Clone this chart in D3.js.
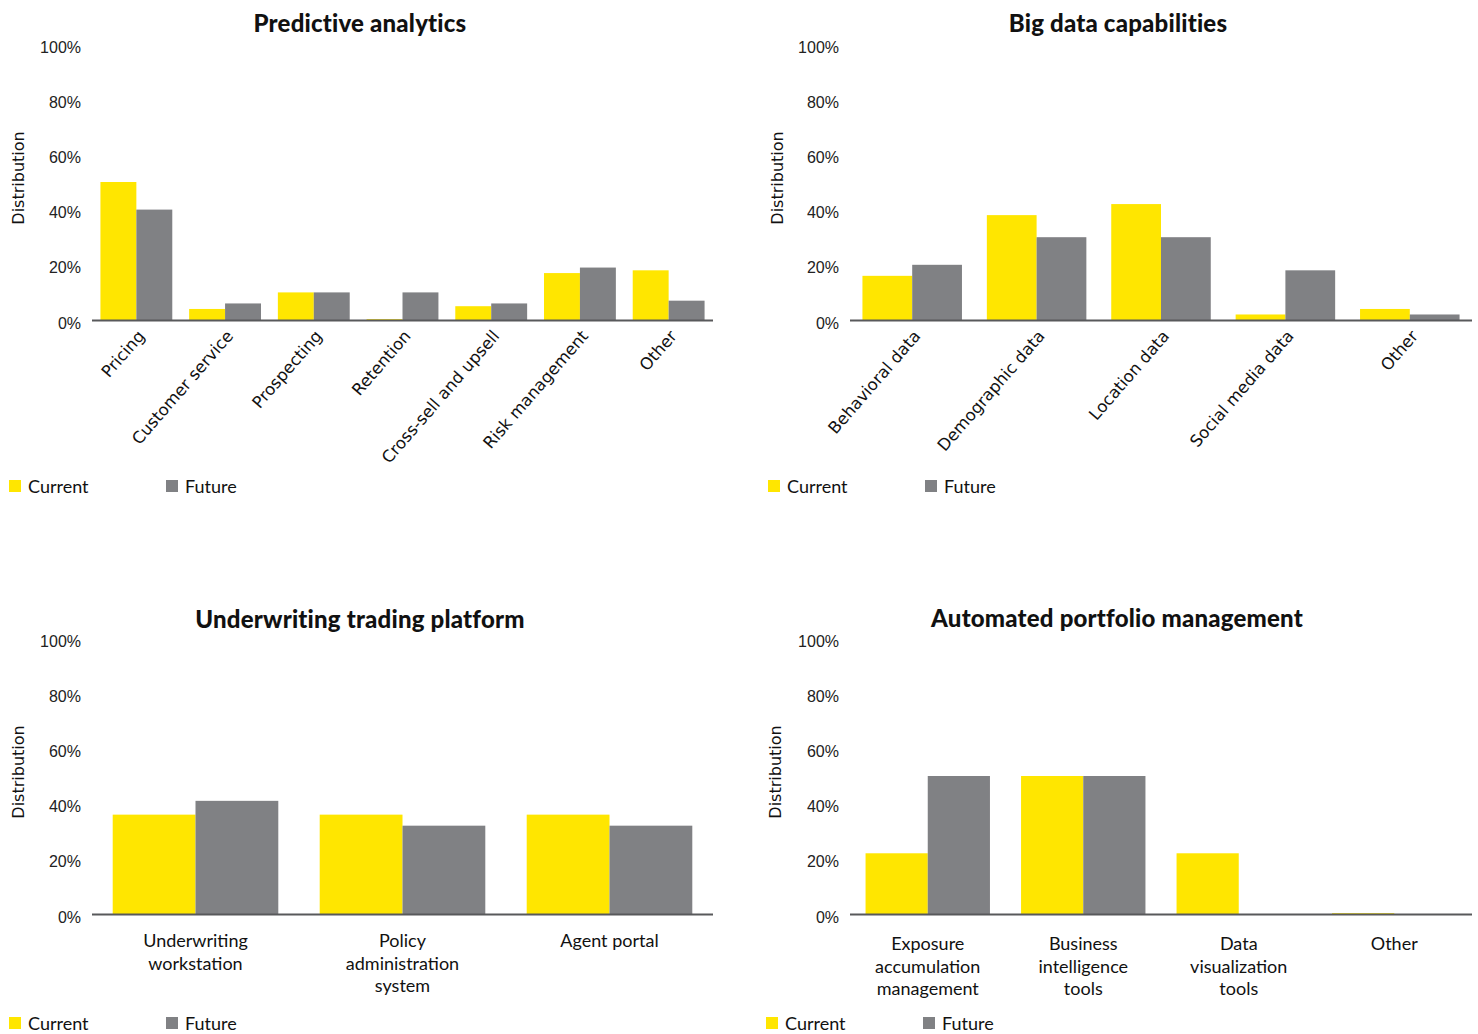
<!DOCTYPE html>
<html><head><meta charset="utf-8">
<script src="https://cdn.jsdelivr.net/npm/d3@7"></script>
<style>
html,body{margin:0;padding:0;background:#fff;}
svg{display:block;}
</style></head>
<body>
<svg id="chart" width="1478" height="1034"></svg>
<script>
// ---- Data ----
const seriesNames = ["Current", "Future"];
const yTicks = [0, 20, 40, 60, 80, 100];

const predictiveCategories = ["Pricing", "Customer service", "Prospecting", "Retention", "Cross-sell and upsell", "Risk management", "Other"];
const predictiveCurrent = [50, 4, 10, 0.3, 5, 17, 18];
const predictiveFuture  = [40, 6, 10, 10, 6, 19, 7];

const bigDataCategories = ["Behavioral data", "Demographic data", "Location data", "Social media data", "Other"];
const bigDataCurrent = [16, 38, 42, 2, 4];
const bigDataFuture  = [20, 30, 30, 18, 2];

const underwritingCategories = ["Underwriting\nworkstation", "Policy\nadministration\nsystem", "Agent portal"];
const underwritingCurrent = [36, 36, 36];
const underwritingFuture  = [41, 32, 32];

const portfolioCategories = ["Exposure\naccumulation\nmanagement", "Business\nintelligence\ntools", "Data\nvisualization\ntools", "Other"];
const portfolioCurrent = [22, 50, 22, 0.3];
const portfolioFuture  = [50, 50, 0, 0];

// ---- Style ----
const colors = {Current: "#FFE600", Future: "#808184"};
const sansFont = "Lato, 'Open Sans', sans-serif";
const dejaFont = "'DejaVu Sans', sans-serif";

const svg = d3.select("#chart");

function drawPanel(o) {
  const g = svg.append("g");
  const x = d3.scaleBand().domain(o.categories).range([o.x0, o.x1]).paddingInner(o.pad).paddingOuter(o.pad / 2);
  const xs = d3.scaleBand().domain(seriesNames).range([0, x.bandwidth()]);
  const y = d3.scaleLinear().domain([0, 100]).range([o.yBase, o.yTop]);

  // title
  g.append("text").attr("x", o.titleX).attr("y", o.titleY).attr("text-anchor", "middle")
    .attr("dominant-baseline", "central")
    .style("font-family", sansFont).style("font-weight", "900").style("font-size", "24px")
    .style("letter-spacing", "0.2px").style("fill", "#111")
    .text(o.title);

  // y axis
  const ya = g.append("g").attr("transform", `translate(${o.x0 - 8},3)`)
    .call(d3.axisLeft(y).tickValues(yTicks).tickSize(0).tickPadding(3).tickFormat(d => d + "%"));
  ya.select(".domain").remove();
  ya.selectAll("text").style("font-family", "'Liberation Sans', sans-serif").style("font-size", "16px").style("fill", "#222");

  // y label
  g.append("text").attr("transform", `translate(${o.ylabX},${(o.yBase + o.yTop) / 2 - 4}) rotate(-90)`)
    .attr("text-anchor", "middle").attr("dominant-baseline", "central")
    .style("font-family", dejaFont).style("font-size", "16px").style("fill", "#111")
    .text("Distribution");

  // bars
  const rows = o.categories.map((c, i) => ({c, vals: [o.current[i], o.future[i]]}));
  const grp = g.selectAll("g.cat").data(rows).join("g").attr("class", "cat")
    .attr("transform", d => `translate(${x(d.c)},0)`);
  grp.selectAll("rect").data(d => d.vals.map((v, j) => ({s: seriesNames[j], v}))).join("rect")
    .attr("x", d => xs(d.s)).attr("width", xs.bandwidth())
    .attr("y", d => y(d.v)).attr("height", d => y(0) - y(d.v))
    .attr("fill", d => colors[d.s]);

  // baseline
  g.append("line").attr("x1", o.x0).attr("x2", o.x1).attr("y1", y(0) + 0.5).attr("y2", y(0) + 0.5)
    .attr("stroke", "#58595b").attr("stroke-width", 2);

  // category labels
  if (o.rotate) {
    g.selectAll("text.cl").data(o.categories).join("text").attr("class", "cl")
      .attr("transform", d => `translate(${x(d) + x.bandwidth() / 2 + 5},${y(0) + 13}) rotate(-49)`)
      .attr("text-anchor", "end").attr("dominant-baseline", "central")
      .style("font-family", dejaFont).style("font-size", "16.5px").style("fill", "#111")
      .text(d => d);
  } else {
    const t = g.selectAll("text.cl").data(o.categories).join("text").attr("class", "cl")
      .attr("x", d => x(d) + x.bandwidth() / 2).attr("y", y(0) + o.labDy)
      .attr("text-anchor", "middle")
      .style("font-family", sansFont).style("font-size", "18px").style("fill", "#111");
    t.each(function(d) {
      const el = d3.select(this);
      d.split("\n").forEach((line, i) => {
        el.append("tspan").attr("x", x(d) + x.bandwidth() / 2).attr("dy", i === 0 ? 0 : 22.5).text(line);
      });
    });
  }

  // legend
  const lg = g.append("g").attr("transform", `translate(${o.legX},${o.legY})`);
  seriesNames.forEach((s, i) => {
    const dx = i * 157;
    lg.append("rect").attr("x", dx).attr("y", -6).attr("width", 12).attr("height", 12).attr("fill", colors[s]);
    lg.append("text").attr("x", dx + 19).attr("y", 0).attr("dominant-baseline", "central")
      .style("font-family", sansFont).style("font-size", "18px").style("fill", "#111").text(s);
  });
}

drawPanel({title: "Predictive analytics", categories: predictiveCategories, current: predictiveCurrent, future: predictiveFuture,
  x0: 92, x1: 713, yBase: 320, yTop: 44, pad: 0.19, titleX: 360, titleY: 22, ylabX: 18, rotate: true, legX: 9, legY: 486});
drawPanel({title: "Big data capabilities", categories: bigDataCategories, current: bigDataCurrent, future: bigDataFuture,
  x0: 850, x1: 1472, yBase: 320, yTop: 44, pad: 0.2, titleX: 1118, titleY: 22, ylabX: 777, rotate: true, legX: 768, legY: 486});
drawPanel({title: "Underwriting trading platform", categories: underwritingCategories, current: underwritingCurrent, future: underwritingFuture,
  x0: 92, x1: 713, yBase: 914, yTop: 638, pad: 0.2, titleX: 360, titleY: 618, ylabX: 18, rotate: false, labDy: 33, legX: 9, legY: 1023});
drawPanel({title: "Automated portfolio management", categories: portfolioCategories, current: portfolioCurrent, future: portfolioFuture,
  x0: 850, x1: 1472, yBase: 914, yTop: 638, pad: 0.2, titleX: 1117, titleY: 617, ylabX: 775, rotate: false, labDy: 36, legX: 766, legY: 1023});
</script>
</body></html>
